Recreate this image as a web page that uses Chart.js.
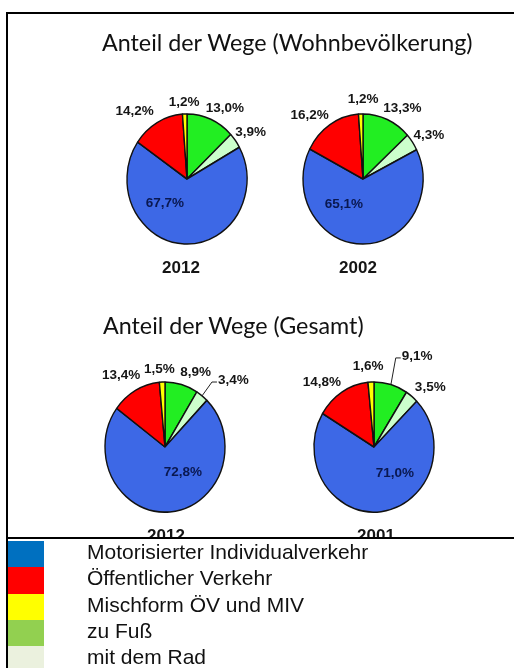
<!DOCTYPE html>
<html>
<head>
<meta charset="utf-8">
<script src="https://cdn.jsdelivr.net/npm/chart.js@4"></script>
<style>
  html, body { margin: 0; padding: 0; background: #fff; }
  body { width: 514px; height: 668px; position: relative; overflow: hidden; }
  #frame { position: absolute; left: 6px; top: 12px; width: 530px; height: 527px; box-sizing: border-box;
           border-left: 2px solid #000; border-top: 2px solid #000; border-bottom: 2px solid #000; z-index: 2; }
  .title { position: absolute; font-family: Lato, sans-serif; font-size: 23.3px; line-height: 24px; color: #111; white-space: nowrap; z-index: 2; }
  canvas { position: absolute; z-index: 1; }
  #legend { position: absolute; left: 6px; top: 539px; width: 530px; height: 140px; background: #fff;
            border-left: 2px solid #000; z-index: 3; }
  .row { position: absolute; left: 0; height: 26.3px; width: 520px; }
  .sw { position: absolute; left: 0; top: 0; width: 36px; height: 100%; }
  .lt { position: absolute; left: 79px; top: -2px; font-family: "Liberation Sans", Arial, sans-serif; font-size: 21px;
        line-height: 26.3px; color: #111; white-space: nowrap; }
</style>
</head>
<body>
<div id="frame"></div>
<div class="title" id="t1" style="left:102px; top:30px;"></div>
<div class="title" id="t2" style="left:103px; top:313px;"></div>
<canvas id="p1" width="220" height="220" style="left:77px; top:69px;"></canvas>
<canvas id="p2" width="220" height="220" style="left:253px; top:69px;"></canvas>
<canvas id="p3" width="220" height="220" style="left:55px; top:337px;"></canvas>
<canvas id="p4" width="220" height="220" style="left:264px; top:337px;"></canvas>
<div id="legend"></div>
<script>
// Kategorien (Reihenfolge wie in der Legende)
const categories = ["Motorisierter Individualverkehr", "Öffentlicher Verkehr", "Mischform ÖV und MIV", "zu Fuß", "mit dem Rad"];
const titles = ["Anteil der Wege (Wohnbevölkerung)", "Anteil der Wege (Gesamt)"];
const years = ["2012", "2002", "2012", "2001"];

// Werte in Prozent
const wohn2012 = [67.7, 14.2, 1.2, 13.0, 3.9];
const wohn2002 = [65.1, 16.2, 1.2, 13.3, 4.3];
const ges2012 = [72.8, 13.4, 1.5, 8.9, 3.4];
const ges2001 = [71.0, 14.8, 1.6, 9.1, 3.5];

// Farben
const pieColors = ["#3d68e6", "#ff0000", "#ffff00", "#22ee22", "#ccffcc"];
const legendColors = ["#0070c0", "#ff0000", "#ffff00", "#92d050", "#ebf1de"];

// im Uhrzeigersinn ab 12 Uhr: zu Fuß, Rad, MIV, ÖV, Mischform
const sliceOrder = [3, 4, 0, 1, 2];

document.getElementById("t1").textContent = titles[0];
document.getElementById("t2").textContent = titles[1];

// Legende
const $lg = document.getElementById("legend");
categories.forEach((c, i) => {
  const row = document.createElement("div");
  row.className = "row";
  row.style.top = (2 + i * 26.3) + "px";
  row.innerHTML = '<div class="sw" style="background:' + legendColors[i] + '"></div><div class="lt"></div>';
  row.querySelector(".lt").textContent = c;
  $lg.appendChild(row);
});

const fmt = v => v.toFixed(1).replace(".", ",") + "%";

// Kreis etwas hochgezogen (Ellipse) wie im Original
const stretchY = 1.085;
const ellipsePlugin = {
  id: "ellipse",
  beforeDatasetsDraw(chart) {
    const arc = chart.getDatasetMeta(0).data[0];
    const ctx = chart.ctx;
    ctx.save();
    ctx.translate(arc.x, arc.y);
    ctx.scale(1, stretchY);
    ctx.translate(-arc.x, -arc.y);
  },
  afterDatasetsDraw(chart) {
    chart.ctx.restore();
  }
};

// Beschriftungen + Jahreszahl
const labelPlugin = {
  id: "pieLabels",
  afterDraw(chart, args, opts) {
    const ctx = chart.ctx;
    const meta = chart.getDatasetMeta(0);
    const vals = chart.data.datasets[0].data;
    ctx.save();
    ctx.font = 'bold 13.5px "Liberation Sans", Arial, sans-serif';
    ctx.textAlign = "center";
    ctx.textBaseline = "middle";
    meta.data.forEach((arc, k) => {
      const cat = sliceOrder[k];
      const mid = (arc.startAngle + arc.endAngle) / 2;
      const r = arc.outerRadius;
      const f = cat === 0 ? 0.4 : 1.25;
      const nudge = opts.nudge[cat];
      const x = arc.x + Math.cos(mid) * r * f + nudge[0];
      const y = arc.y + Math.sin(mid) * r * stretchY * f + nudge[1];
      const txt = fmt(vals[k]);
      ctx.fillStyle = cat === 0 ? "#0a1850" : "#151515";
      ctx.fillText(txt, x, y);
      if (opts.leader === cat) {
        const left = x - ctx.measureText(txt).width / 2;
        ctx.strokeStyle = "#222";
        ctx.lineWidth = 1;
        ctx.beginPath();
        ctx.moveTo(arc.x + Math.cos(mid) * r, arc.y + Math.sin(mid) * r * stretchY);
        ctx.lineTo(left - 6, y + 2);
        ctx.lineTo(left - 1, y + 2);
        ctx.stroke();
      }
    });
    const a0 = meta.data[0];
    ctx.font = 'bold 17px "Liberation Sans", Arial, sans-serif';
    ctx.fillStyle = "#151515";
    ctx.fillText(opts.year, a0.x + opts.yearDx, a0.y + a0.outerRadius * stretchY + 24.5);
    ctx.restore();
  }
};

function makePie(id, values, year, yearDx, nudge, leader) {
  return new Chart(document.getElementById(id), {
    type: "pie",
    data: {
      labels: sliceOrder.map(i => categories[i]),
      datasets: [{
        data: sliceOrder.map(i => values[i]),
        backgroundColor: sliceOrder.map(i => pieColors[i]),
        borderColor: "#111",
        borderWidth: 1.4,
      }],
    },
    options: {
      responsive: false,
      animation: false,
      radius: 60,
      layout: { padding: 0 },
      plugins: {
        legend: { display: false },
        tooltip: { enabled: false },
        pieLabels: { year: year, yearDx: yearDx, nudge: nudge, leader: leader },
      },
    },
    plugins: [ellipsePlugin, labelPlugin],
  });
}

// Feinkorrektur der Beschriftungsposition (MIV, ÖV, Misch, Fuß, Rad)
makePie("p1", wohn2012, years[0], -6, [[-21, -2], [-15, 3], [0, 5], [8, 4], [3, 1]], -1);
makePie("p2", wohn2002, years[1], -5, [[-19, -1], [-12, 4], [3, 2], [9, 4], [4, 2]], -1);
makePie("p3", ges2012, years[2], 1, [[16, -1], [-7, -1], [-2, 4], [10, 3], [22, -3]], 4);
makePie("p4", ges2001, years[3], 2, [[18, 0], [-12, 4], [-2, 1], [22, -13], [9, 3]], 3);
</script>
</body>
</html>
